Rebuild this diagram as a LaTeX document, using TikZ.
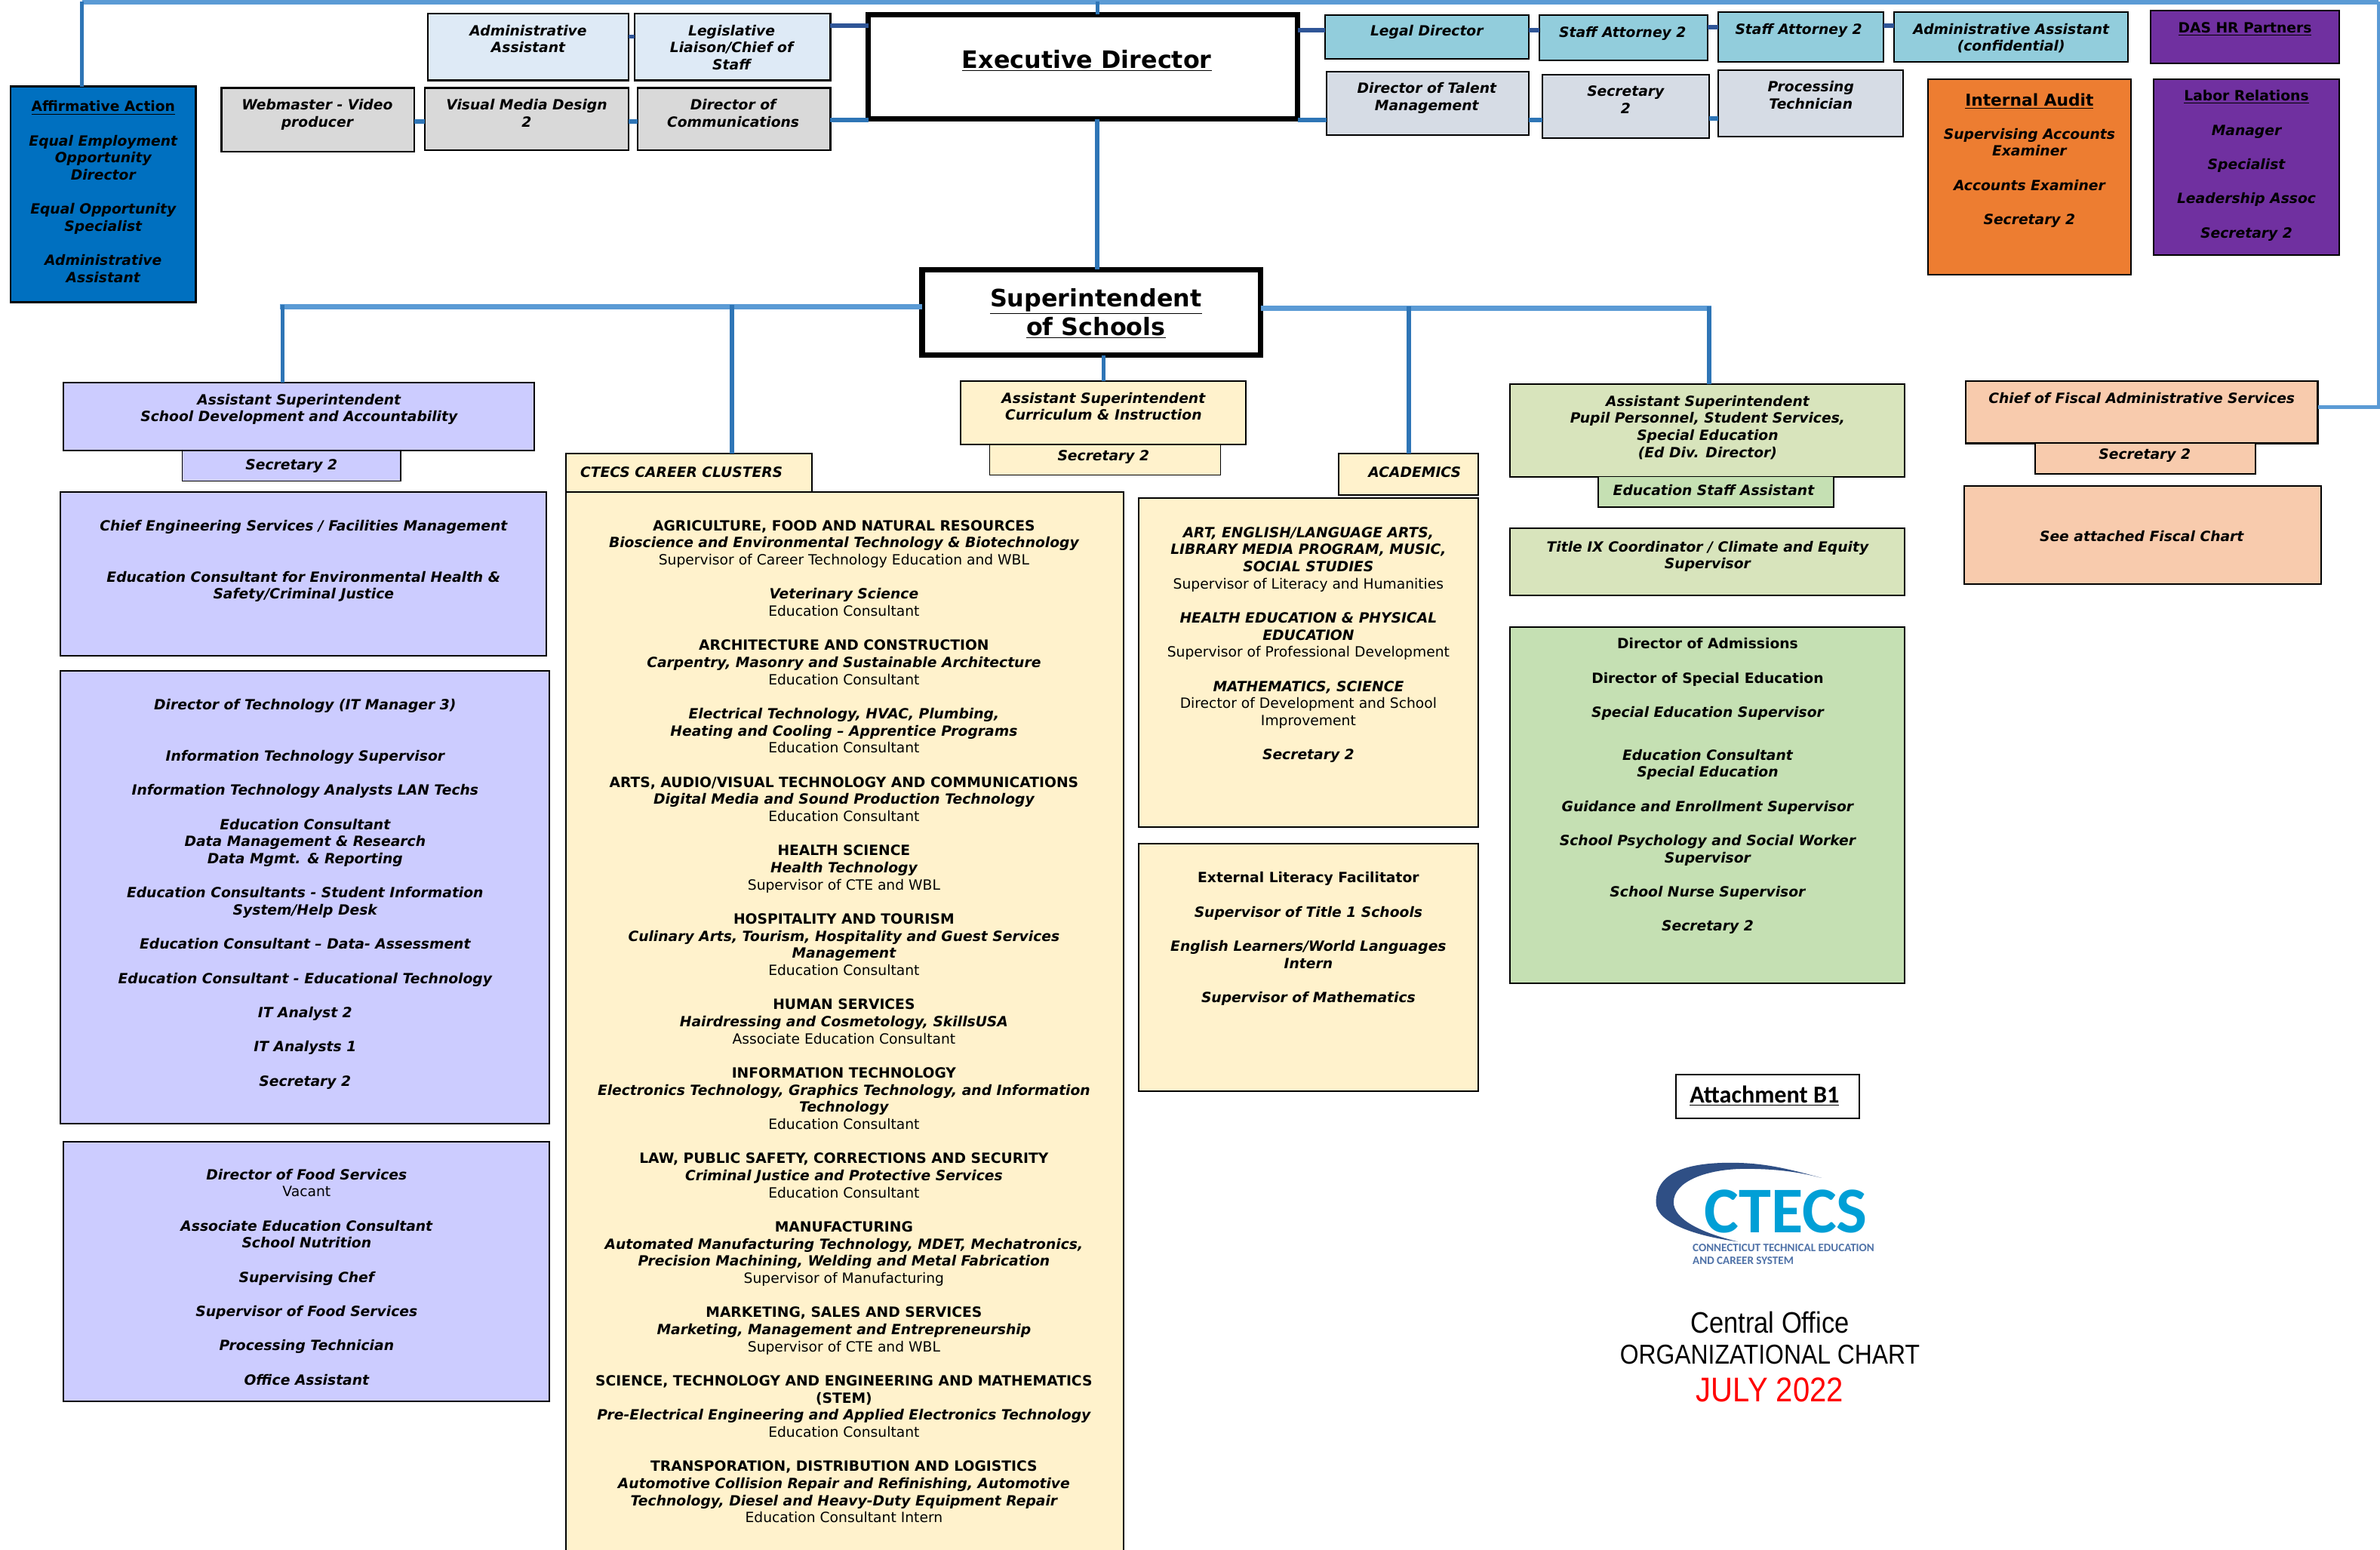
\documentclass[tikz,border=0pt]{standalone}
\usepackage{fontspec}
\setmainfont{DejaVu Sans}
\newfontfamily\carl{Carlito}
\newfontfamily\libn[FakeStretch=0.88]{Liberation Sans}
\definecolor{lineA}{HTML}{5B9BD5}
\definecolor{lineB}{HTML}{2E75B6}
\definecolor{lineC}{HTML}{2F5597}
\definecolor{cAff}{HTML}{0070C0}
\definecolor{cLb}{HTML}{DEEAF6}
\definecolor{cGr}{HTML}{D9D9D9}
\definecolor{cTe}{HTML}{92CDDC}
\definecolor{cSl}{HTML}{D6DCE5}
\definecolor{cPu}{HTML}{7030A0}
\definecolor{cOr}{HTML}{ED7D31}
\definecolor{cYe}{HTML}{FFF2CC}
\definecolor{cLa}{HTML}{CCCCFF}
\definecolor{cOl}{HTML}{D8E4BC}
\definecolor{cGn}{HTML}{C5E0B3}
\definecolor{cPe}{HTML}{F8CBAD}
\definecolor{cLogo}{HTML}{009FD6}
\definecolor{cLogoD}{HTML}{2F4F85}
\definecolor{cLogoT}{HTML}{4F72A8}
\newcommand\rgl[1]{{\mdseries\upshape #1}}
\newcommand\bdl[1]{{\upshape #1}}
\newcommand\ul[1]{\underline{#1}}
\newcommand\gl{\\[11.27pt]}
\newcommand\bxbox[6][]{%
  \pgfmathsetmacro\bxW{#5-#3}\pgfmathsetmacro\bxH{#6-#4}%
  \pgfmathsetmacro\bxX{(#3+#5)/2}\pgfmathsetmacro\bxY{(#4+#6)/2}%
  \node[orgbox,#1,minimum width=\bxW pt,minimum height=\bxH pt] (#2) at (\bxX,\bxY) {};}
\newcommand\tx[4]{%
  \pgfmathsetmacro\bxY{#3-4.5}%
  \node[orgtext] (#1) at (#2,\bxY) {\rule{0pt}{8pt}#4};}
\tikzset{
  orgbox/.style={draw=black,line width=1pt,inner sep=0pt,outer sep=0pt},
  orgtext/.style={anchor=north,align=center,inner sep=0pt,outer sep=0pt,
    font=\fontsize{9.3}{11.27}\selectfont\bfseries\itshape},
  connA/.style={draw=lineA,line width=3.2pt},
  connB/.style={draw=lineB,line width=2.5pt},
  connC/.style={draw=lineC,line width=3pt},
  connD/.style={draw=lineB,line width=3pt},
}
\begin{document}
\begin{tikzpicture}[x=1pt,y=-1pt]
\useasboundingbox (0,0) rectangle (1568,1021);
\fill[white] (0,0) rectangle (1568,1021);
% top row
\bxbox[fill=cAff,line width=1.2pt]{aff}{7}{57}{129}{199}
\bxbox[fill=cLb,line width=1.2pt]{adm}{282}{9}{414}{53}
\bxbox[fill=cLb,line width=1.2pt]{leg}{418}{9}{547}{53}
\bxbox[fill=cGr,line width=1.2pt]{web}{146}{58}{273}{100}
\bxbox[fill=cGr,line width=1.2pt]{vis}{280}{58}{414}{99}
\bxbox[fill=cGr,line width=1.2pt]{com}{420}{58}{547}{99}
\bxbox[fill=white,line width=3.5pt]{exec}{572}{9.5}{855}{78.5}
\bxbox[fill=cTe]{lgl}{873}{10}{1007}{39}
\bxbox[fill=cTe]{sta}{1014}{10}{1125}{40}
\bxbox[fill=cTe]{stb}{1132}{8}{1241}{41}
\bxbox[fill=cTe]{aac}{1248}{8}{1402}{41}
\bxbox[fill=cPu]{das}{1417}{7}{1541}{42}
\bxbox[fill=cSl]{tal}{874}{47}{1007}{89}
\bxbox[fill=cSl]{sec}{1016}{49}{1126}{91}
\bxbox[fill=cSl]{prc}{1132}{46}{1254}{90}
\bxbox[fill=cOr]{aud}{1270}{52}{1404}{181}
\bxbox[fill=cPu]{lab}{1419}{52}{1541}{168}
\bxbox[fill=white,line width=3.5pt]{sup}{607.5}{177.5}{830.5}{234}
% second tier
\bxbox[fill=cYe]{cur}{633}{251}{821}{293}
\bxbox[fill=cYe,line width=.7pt]{curs}{652}{293}{804}{313}
\bxbox[fill=cYe]{aca}{882}{299}{974}{326}
\bxbox[fill=cYe]{cap}{373}{299}{535}{325}
\bxbox[fill=cLa]{sch}{42}{252}{352}{297}
\bxbox[fill=cLa,line width=.7pt]{schs}{120}{297}{264}{317}
\bxbox[fill=cOl]{pup}{995}{253}{1255}{314}
\bxbox[fill=cGn,line width=.7pt]{pups}{1053}{314}{1208}{334}
\bxbox[fill=cOl]{tix}{995}{348}{1255}{392}
\bxbox[fill=cGn]{adi}{995}{413}{1255}{648}
\bxbox[fill=cPe,line width=1.2pt]{fis}{1295}{251}{1527}{292}
\bxbox[fill=cPe]{fiss}{1341}{292}{1486}{312}
\bxbox[fill=cPe]{fisc}{1294}{320}{1529}{385}
\bxbox[fill=cLa]{eng}{40}{324}{360}{432}
\bxbox[fill=cLa]{itb}{40}{442}{362}{740}
\bxbox[fill=cLa]{foo}{42}{752}{362}{923}
\bxbox[fill=cYe,draw=none]{clu}{373}{324}{740}{1021}
\draw[black,line width=1pt] (clu.south west) -- (clu.north west) -- (clu.north east) -- (clu.south east);
\bxbox[fill=cYe]{art}{750}{328}{974}{545}
\bxbox[fill=cYe]{ext}{750}{556}{974}{719}
\bxbox[fill=white]{att}{1104}{708}{1225}{737}
% connectors
\coordinate (topl) at (54,1.2);
\coordinate (topr) at (1567,1.2);
\draw[connA] (topl) -- (topr);
\draw[connB] (topl) -- (aff.north -| topl);
\draw[connA,line width=2.4pt,line join=miter] (topr) -- (1567,268) -- (fis.east |- 0,268);
\draw[connB] (exec.north -| 723,0) -- (723,1.2);
\draw[connD] (exec.south -| 723,0) -- (sup.north -| 723,0);
\draw[connC] (leg.east |- 0,17) -- (exec.west |- 0,17);
\draw[connD] (com.east |- 0,79) -- (exec.west |- 0,79);
\draw[connC,line width=2.4pt] (adm.east |- 0,24) -- (leg.west |- 0,24);
\draw[connD] (web.east |- 0,80) -- (vis.west |- 0,80);
\draw[connD] (vis.east |- 0,80) -- (com.west |- 0,80);
\draw[connC] (exec.east |- 0,20) -- (lgl.west |- 0,20);
\draw[connC] (lgl.east |- 0,20) -- (sta.west |- 0,20);
\draw[connC] (sta.east |- 0,18) -- (stb.west |- 0,18);
\draw[connC] (stb.east |- 0,17) -- (aac.west |- 0,17);
\draw[connD] (exec.east |- 0,79) -- (tal.west |- 0,79);
\draw[connD] (tal.east |- 0,79) -- (sec.west |- 0,79);
\draw[connD] (sec.east |- 0,78) -- (prc.west |- 0,78);
\draw[connA] (sup.west |- 0,202) -- (184.5,202);
\draw[connB] (186,201) -- (sch.north -| 186,0);
\draw[connD] (482,201) -- (cap.north -| 482,0);
\draw[connA] (sup.east |- 0,203) -- (1127.3,203);
\draw[connD] (928,202) -- (aca.north -| 928,0);
\draw[connD] (1126,202) -- (pup.north -| 1126,0);
\draw[connB] (sup.south -| 727,0) -- (cur.north -| 727,0);
% text
\tx{affT}{68}{70}{\bdl{\ul{Affirmative Action}}\gl Equal Employment\\Opportunity\\Director\gl Equal Opportunity\\Specialist\gl Administrative\\Assistant}
\tx{admT}{348}{20}{Administrative\\Assistant}
\tx{legT}{482}{20}{Legislative\\Liaison/Chief of\\Staff}
\tx{webT}{209}{69}{Webmaster - Video\\producer}
\tx{visT}{347}{69}{Visual Media Design\\2}
\tx{comT}{483}{69}{Director of\\Communications}
\node[font=\fontsize{15.8}{19}\selectfont\bfseries] (execT) at (716,40) {\ul{Executive Director}};
\tx{lglT}{940}{20}{Legal Director}
\tx{staT}{1069}{21}{Staff Attorney 2}
\tx{stbT}{1185}{19}{Staff Attorney 2}
\tx{aacT}{1325}{19}{Administrative Assistant\\(confidential)}
\tx{dasT}{1479}{18}{\bdl{\ul{DAS HR Partners}}}
\tx{talT}{940}{58}{Director of Talent\\Management}
\tx{secT}{1071}{60}{Secretary\\2}
\tx{prcT}{1193}{57}{Processing\\Technician}
\tx{audH}{1337}{66}{\bdl{\fontsize{10.8}{11.27}\selectfont\ul{Internal Audit}}}
\tx{audT}{1337}{88}{Supervising Accounts\\Examiner\gl Accounts Examiner\gl Secretary 2}
\tx{labT}{1480}{63}{\bdl{\ul{Labor Relations}}\gl Manager\gl Specialist\gl Leadership Assoc\gl Secretary 2}
\node[font=\fontsize{15.8}{19}\selectfont\bfseries,align=center] (supT) at (722,206.5) {\ul{Superintendent}\\\ul{of Schools}};
\tx{curT}{727}{262}{Assistant Superintendent\\Curriculum \& Instruction}
\tx{cursT}{727}{300}{Secretary 2}
\tx{acaT}{932}{311}{ACADEMICS}
\tx{capT}{449}{311}{CTECS CAREER CLUSTERS}
\tx{schT}{197}{263}{Assistant Superintendent\\School Development and Accountability}
\tx{schsT}{192}{306}{Secretary 2}
\tx{pupT}{1125}{264}{Assistant Superintendent\\Pupil Personnel, Student Services,\\Special Education\\(Ed Div. Director)}
\tx{pupsT}{1129}{323}{Education Staff Assistant}
\tx{tixT}{1125}{360}{Title IX Coordinator / Climate and Equity\\Supervisor}
\tx{fisT}{1411}{262}{Chief of Fiscal Administrative Services}
\tx{fissT}{1413}{299}{Secretary 2}
\tx{fiscT}{1411}{353}{See attached Fiscal Chart}
\tx{engT}{200}{346}{Chief Engineering Services / Facilities Management\\[22.54pt]Education Consultant for Environmental Health \&\\Safety/Criminal Justice}
\tx{itbT}{201}{464}{Director of Technology (IT Manager 3)\\[22.54pt]Information Technology Supervisor\gl Information Technology Analysts LAN Techs\gl Education Consultant\\Data Management \& Research\\Data Mgmt. \& Reporting\gl Education Consultants - Student Information\\System/Help Desk\gl Education Consultant – Data- Assessment\gl Education Consultant - Educational Technology\gl IT Analyst 2\gl IT Analysts 1\gl Secretary 2}
\tx{fooT}{202}{773.6}{Director of Food Services\\\rgl{Vacant}\gl Associate Education Consultant\\School Nutrition\gl Supervising Chef\gl Supervisor of Food Services\gl Processing Technician\gl Office Assistant}
\tx{cluT}{556}{346}{\bdl{AGRICULTURE, FOOD AND NATURAL RESOURCES}\\Bioscience and Environmental Technology \& Biotechnology\\\rgl{Supervisor of Career Technology Education and WBL}\gl
Veterinary Science\\\rgl{Education Consultant}\gl
\bdl{ARCHITECTURE AND CONSTRUCTION}\\Carpentry, Masonry and Sustainable Architecture\\\rgl{Education Consultant}\gl
Electrical Technology, HVAC, Plumbing,\\Heating and Cooling – Apprentice Programs\\\rgl{Education Consultant}\gl
\bdl{ARTS, AUDIO/VISUAL TECHNOLOGY AND COMMUNICATIONS}\\Digital Media and Sound Production Technology\\\rgl{Education Consultant}\gl
\bdl{HEALTH SCIENCE}\\Health Technology\\\rgl{Supervisor of CTE and WBL}\gl
\bdl{HOSPITALITY AND TOURISM}\\Culinary Arts, Tourism, Hospitality and Guest Services\\Management\\\rgl{Education Consultant}\gl
\bdl{HUMAN SERVICES}\\Hairdressing and Cosmetology, SkillsUSA\\\rgl{Associate Education Consultant}\gl
\bdl{INFORMATION TECHNOLOGY}\\Electronics Technology, Graphics Technology, and Information\\Technology\\\rgl{Education Consultant}\gl
\bdl{LAW, PUBLIC SAFETY, CORRECTIONS AND SECURITY}\\Criminal Justice and Protective Services\\\rgl{Education Consultant}\gl
\bdl{MANUFACTURING}\\Automated Manufacturing Technology, MDET, Mechatronics,\\Precision Machining, Welding and Metal Fabrication\\\rgl{Supervisor of Manufacturing}\gl
\bdl{MARKETING, SALES AND SERVICES}\\Marketing, Management and Entrepreneurship\\\rgl{Supervisor of CTE and WBL}\gl
\bdl{SCIENCE, TECHNOLOGY AND ENGINEERING AND MATHEMATICS}\\\bdl{(STEM)}\\Pre-Electrical Engineering and Applied Electronics Technology\\\rgl{Education Consultant}\gl
\bdl{TRANSPORATION, DISTRIBUTION AND LOGISTICS}\\Automotive Collision Repair and Refinishing, Automotive\\Technology, Diesel and Heavy-Duty Equipment Repair\\\rgl{Education Consultant Intern}}
\tx{artT}{862}{350.5}{ART, ENGLISH/LANGUAGE ARTS,\\LIBRARY MEDIA PROGRAM, MUSIC,\\SOCIAL STUDIES\\\rgl{Supervisor of Literacy and Humanities}\gl HEALTH EDUCATION \& PHYSICAL\\EDUCATION\\\rgl{Supervisor of Professional Development}\gl MATHEMATICS, SCIENCE\\\rgl{Director of Development and School}\\\rgl{Improvement}\gl Secretary 2}
\tx{extT}{862}{578}{\bdl{External Literacy Facilitator}\gl Supervisor of Title 1 Schools\gl English Learners/World Languages\\Intern\gl Supervisor of Mathematics}
\tx{adiT}{1125}{424}{\bdl{Director of Admissions}\gl \bdl{Director of Special Education}\gl Special Education Supervisor\\[16.9pt]Education Consultant\\Special Education\gl Guidance and Enrollment Supervisor\gl School Psychology and Social Worker\\Supervisor\gl School Nurse Supervisor\gl Secretary 2}
\node[font=\carl\bfseries\fontsize{16}{18}\selectfont] (attT) at (1162.5,722) {\ul{Attachment B1}};
% logo
\fill[cLogoD] (1200,776) .. controls (1175,769) and (1160,766) .. (1140,766) .. controls (1110,766) and (1091,773) .. (1091,792) .. controls (1091,805) and (1115,814) .. (1145,818) .. controls (1120,812) and (1102.6,803) .. (1102.6,792) .. controls (1102.6,778) and (1125,770) .. (1150,770) .. controls (1170,770) and (1185,772) .. (1200,776) -- cycle;
\node[font=\carl\bfseries\fontsize{43}{43}\selectfont,text=cLogo,inner sep=0pt,text height=27pt,text depth=0pt] (logoT) at (1176.5,798.5) {CTECS};
\node[font=\carl\bfseries\fontsize{7.5}{8.2}\selectfont,text=cLogoT,align=left,anchor=north west,inner sep=0pt] (logoS) at (1115,819.5) {CONNECTICUT TECHNICAL EDUCATION\\AND CAREER SYSTEM};
\node[font=\libn\fontsize{19.5}{21}\selectfont] (ttlA) at (1166,871) {Central Office};
\node[font=\libn\fontsize{18}{21}\selectfont] (ttlB) at (1166,892.5) {ORGANIZATIONAL CHART};
\node[font=\libn\fontsize{22.6}{24}\selectfont,text=red] (ttlC) at (1166,915.5) {JULY 2022};
\end{tikzpicture}
\end{document}
